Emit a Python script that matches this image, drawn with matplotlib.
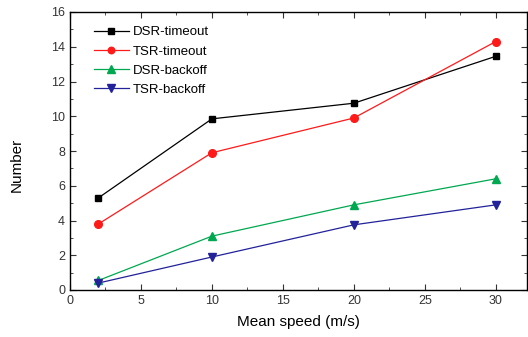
import matplotlib
matplotlib.use('Agg')
import matplotlib.pyplot as plt
from matplotlib.ticker import MultipleLocator

plt.rcParams['font.family'] = ['Liberation Sans', 'DejaVu Sans']

# data
speed = [2, 10, 20, 30]
dsr_timeout = [5.3, 9.85, 10.75, 13.45]
tsr_timeout = [3.8, 7.9, 9.9, 14.3]
dsr_backoff = [0.55, 3.1, 4.9, 6.4]
tsr_backoff = [0.4, 1.9, 3.75, 4.9]

fig = plt.figure(figsize=(5.28, 3.37), dpi=100)
ax = fig.add_axes([70/528, 1-290/337, 457/528, 278/337])

ax.plot(speed, dsr_timeout, color='black', marker='s', ms=5, lw=0.9, label='DSR-timeout')
ax.plot(speed, tsr_timeout, color='#ff1a1a', marker='o', ms=5.5, lw=0.9, label='TSR-timeout')
ax.plot(speed, dsr_backoff, color='#00a850', marker='^', ms=6, lw=0.9, label='DSR-backoff')
ax.plot(speed, tsr_backoff, color='#22229a', marker='v', ms=6, lw=0.9, label='TSR-backoff')

ax.set_xlim(0, 32.2)
ax.set_ylim(0, 16)
ax.xaxis.set_major_locator(MultipleLocator(5))
ax.xaxis.set_minor_locator(MultipleLocator(2.5))
ax.yaxis.set_major_locator(MultipleLocator(2))
ax.yaxis.set_minor_locator(MultipleLocator(1))
ax.tick_params(which='both', direction='in', top=True, right=True, labelsize=9, colors='#333333')
ax.tick_params(which='major', length=4)
ax.tick_params(which='minor', length=2)
for s in ax.spines.values():
    s.set_linewidth(1.0)

ax.set_xlabel('Mean speed (m/s)', fontsize=11, labelpad=6)
ax.set_ylabel('Number', fontsize=11)
ax.yaxis.set_label_coords(-0.102, 0.45)

leg = ax.legend(loc='upper left', frameon=False, fontsize=9.5, handlelength=2.65,
                handletextpad=0.3, labelspacing=0.52, markerscale=0.85,
                borderaxespad=0.3, bbox_to_anchor=(0.032, 0.982))

fig.savefig('out.png', dpi=100)
